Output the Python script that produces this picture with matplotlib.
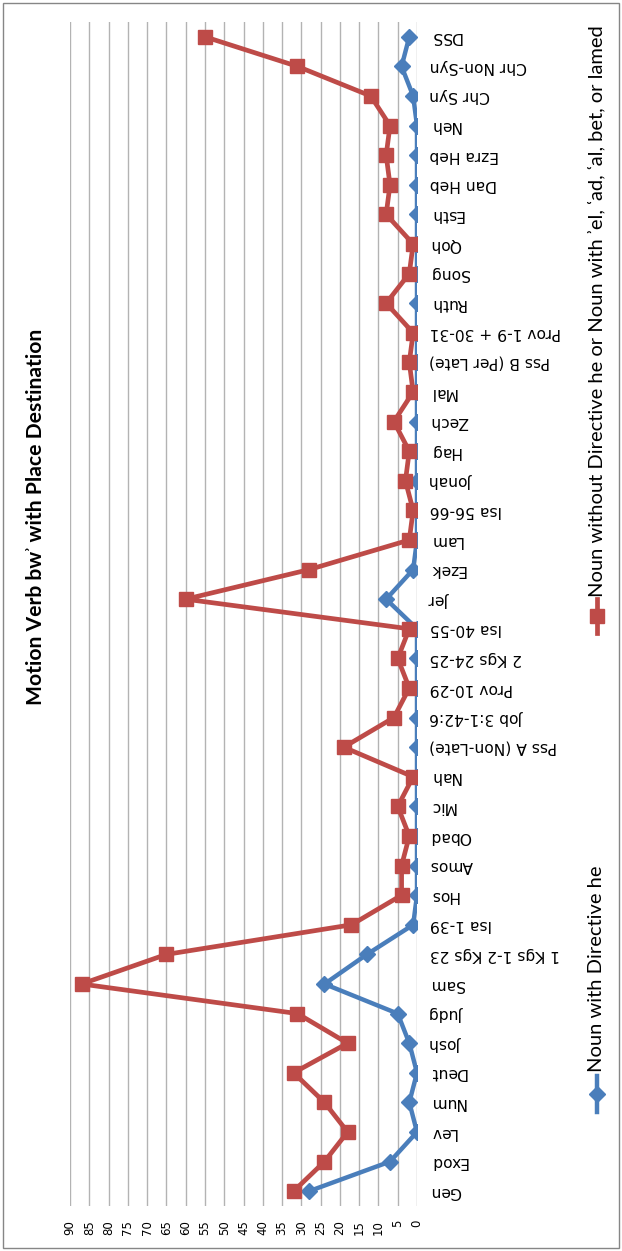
import matplotlib
matplotlib.use('Agg')
import matplotlib.pyplot as plt
from matplotlib.lines import Line2D
from matplotlib.patches import Rectangle

categories = ['Gen', 'Exod', 'Lev', 'Num', 'Deut', 'Josh', 'Judg', 'Sam',
              '1 Kgs 1-2 Kgs 23', 'Isa 1-39', 'Hos', 'Amos', 'Obad', 'Mic', 'Nah',
              'Pss A (Non-Late)', 'Job 3:1-42:6', 'Prov 10-29', '2 Kgs 24-25',
              'Isa 40-55', 'Jer', 'Ezek', 'Lam', 'Isa 56-66', 'Jonah', 'Hag', 'Zech',
              'Mal', 'Pss B (Per Late)', 'Prov 1-9 + 30-31', 'Ruth', 'Song', 'Qoh',
              'Esth', 'Dan Heb', 'Ezra Heb', 'Neh', 'Chr Syn', 'Chr Non-Syn', 'DSS']
with_he = [28, 7, 0, 2, 0, 2, 5, 24, 13, 1, 0, 0, 0, 0, 0, 0, 0, 0, 0, 0,
           8, 1, 0, 0, 0, 0, 0, 0, 0, 0, 0, 0, 0, 0, 0, 0, 0, 1, 4, 2]
without_he = [32, 24, 18, 24, 32, 18, 31, 87, 65, 17, 4, 4, 2, 5, 1, 19, 6, 2, 5, 2,
              60, 28, 2, 1, 3, 2, 6, 1, 2, 1, 8, 2, 1, 8, 7, 8, 7, 12, 31, 55]
value_ticks = list(range(0, 95, 5))

title = 'Motion Verb bwʾ with Place Destination'
label_blue = 'Noun with Directive he'
label_red = 'Noun without Directive he or Noun with ʾel, ʿad, ʿal, bet, or lamed'

BLUE = '#4a7ebb'
RED = '#be4b48'
W, H = 622, 1251


def fx(px):
    return px / W


def fy(py):
    return 1 - py / H


fig = plt.figure(figsize=(6.22, 12.51), dpi=100)
ax = fig.add_axes([fx(70), fy(1206), fx(417) - fx(70), fy(22) - fy(1206)])

y = list(range(len(categories)))
ax.plot(with_he, y, color=BLUE, lw=3.2, marker='D', markersize=8,
        markeredgecolor=BLUE, zorder=3)
ax.plot(without_he, y, color=RED, lw=3.4, marker='s', markersize=10.5,
        markeredgecolor=RED, zorder=4)

ax.set_xlim(90, 0)
ax.set_ylim(-0.5, len(categories) - 0.5)
ax.set_xticks(value_ticks)
ax.set_xticklabels([str(v) for v in value_ticks], rotation=90, fontsize=8.5)
ax.set_yticks(y)
ax.set_yticklabels(categories, rotation=180, fontsize=11.2, ha='left', va='center')
ax.yaxis.tick_right()
ax.tick_params(axis='x', length=0, pad=10)
ax.tick_params(axis='y', length=0, pad=9)
ax.grid(axis='x', color='#b3b3b3', lw=1)
ax.set_axisbelow(True)
for s in ax.spines.values():
    s.set_visible(False)

fig.text(fx(36), fy(517), title, rotation=90, ha='center', va='center',
         fontsize=15.2, fontweight='bold', family=['Lato', 'DejaVu Sans'])

# legend, drawn by hand since the whole chart is turned on its side
fig.add_artist(Line2D([fx(597), fx(597)], [fy(1112), fy(1076)], color=BLUE, lw=3.2,
                      transform=fig.transFigure))
fig.add_artist(Line2D([fx(597)], [fy(1094)], color=BLUE, marker='D', markersize=8,
                      transform=fig.transFigure))
fig.text(fx(597), fy(1072), label_blue, rotation=90, ha='center', va='bottom',
         fontsize=14.5, family=['Lato', 'DejaVu Sans'])
fig.add_artist(Line2D([fx(597), fx(597)], [fy(633), fy(599)], color=RED, lw=3.4,
                      transform=fig.transFigure))
fig.add_artist(Line2D([fx(597)], [fy(616)], color=RED, marker='s', markersize=10.5,
                      transform=fig.transFigure))
fig.text(fx(597), fy(597), label_red, rotation=90, ha='center', va='bottom',
         fontsize=14.5, family=['Lato', 'DejaVu Sans'])

fig.add_artist(Rectangle((fx(3), fy(1248)), fx(616), fy(3) - fy(1248), fill=False,
                         edgecolor='#868686', lw=1, transform=fig.transFigure))

fig.savefig('out.png', dpi=100)
